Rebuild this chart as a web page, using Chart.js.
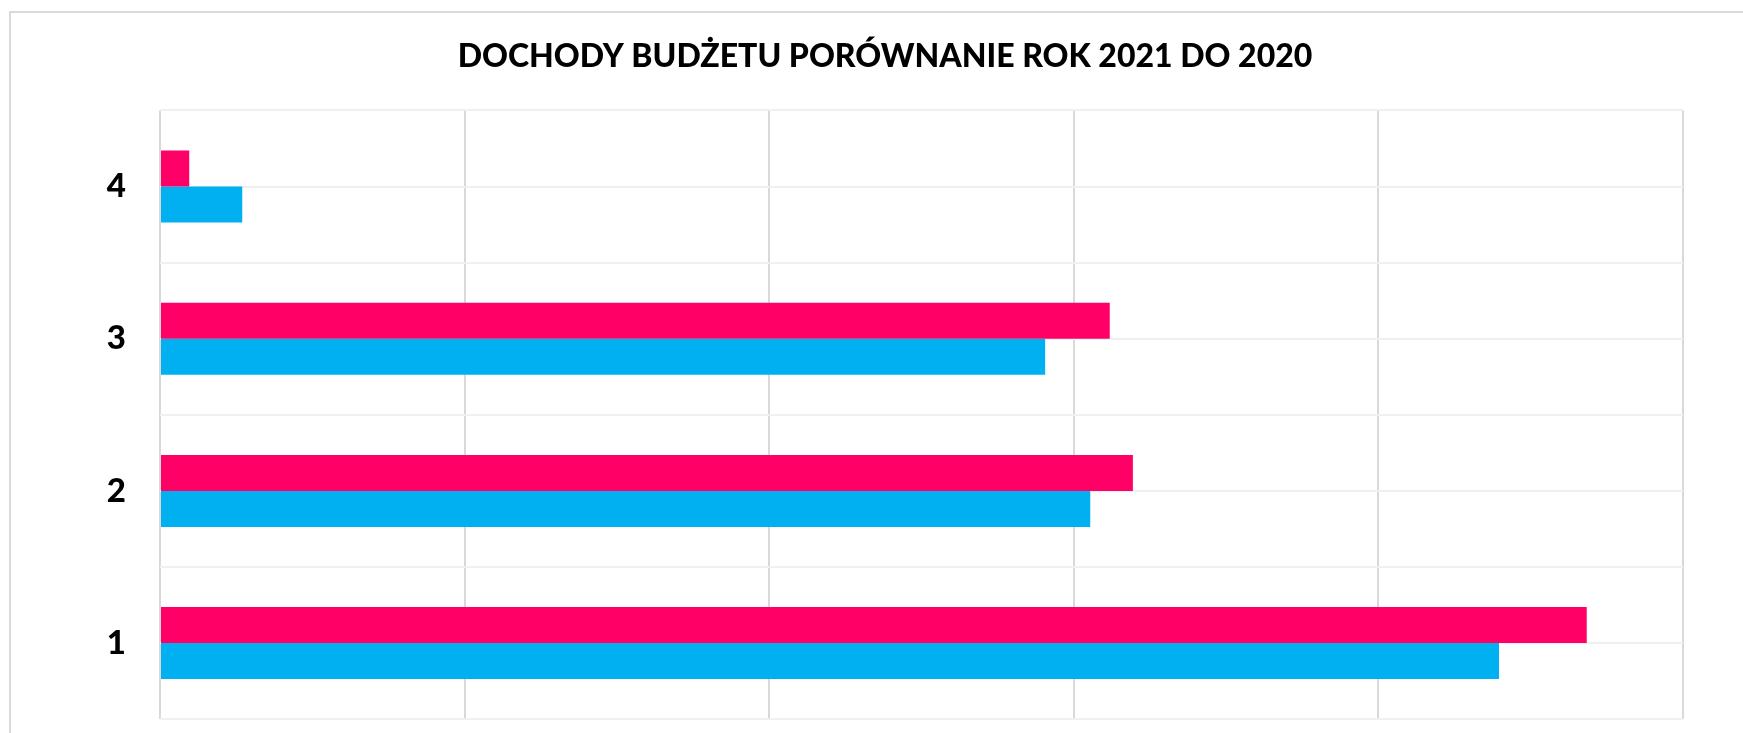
<!DOCTYPE html>
<html>
<head>
<meta charset="utf-8">
<script src="https://cdn.jsdelivr.net/npm/chart.js@4/dist/chart.umd.min.js"></script>
<style>
  html, body { margin: 0; padding: 0; background: #fff; overflow: hidden; }
  #box {
    position: absolute; left: 9px; top: 11px;
    width: 1769px; height: 760px;
    border-left: 2px solid #d9d9d9; border-top: 2px solid #d9d9d9;
  }
</style>
</head>
<body>
<div id="box"><canvas id="budgetChart"></canvas></div>
<script>
// kategorie (od dołu: 1..4)
var categories = ['1', '2', '3', '4'];
// wartości (jednostki umowne, siatka co 50)
var values2021 = [234.2, 159.7, 155.9, 4.8];
var values2020 = [219.8, 152.7, 145.3, 13.5];
var axisMax = 250;
var axisStep = 50;

// linie pośrednie w środku każdej kategorii
var midLines = {
  id: 'midLines',
  beforeDatasetsDraw: function(chart) {
    var ctx = chart.ctx, area = chart.chartArea, y = chart.scales.y;
    ctx.save();
    ctx.strokeStyle = '#f0f0f0';
    ctx.lineWidth = 2;
    categories.forEach(function(c, i) {
      var py = Math.round(y.getPixelForValue(i));
      ctx.beginPath();
      ctx.moveTo(area.left, py);
      ctx.lineTo(area.right, py);
      ctx.stroke();
    });
    ctx.restore();
  }
};

var ctx = document.getElementById('budgetChart').getContext('2d');

var budgetChart = new Chart(ctx, {
  type: 'bar',
  data: {
    labels: categories,
    datasets: [{
      label: '2021',
      data: values2021,
      backgroundColor: '#ff0066',
      categoryPercentage: 0.473,
      barPercentage: 1.0
    }, {
      label: '2020',
      data: values2020,
      backgroundColor: '#00b0f0',
      categoryPercentage: 0.473,
      barPercentage: 1.0
    }]
  },
  options: {
    indexAxis: 'y',
    responsive: true,
    maintainAspectRatio: false,
    animation: false,
    layout: { padding: { left: 76, right: 97, top: 0, bottom: 51 } },
    plugins: {
      legend: { display: false },
      tooltip: { enabled: false },
      title: {
        display: true,
        text: 'DOCHODY BUDŻETU PORÓWNANIE ROK 2021 DO 2020',
        color: '#000',
        font: { family: 'Lato', size: 32, weight: 900 },
        padding: { top: 24, bottom: 35 }
      }
    },
    scales: {
      x: {
        min: 0,
        max: axisMax,
        ticks: { display: false, stepSize: axisStep },
        grid: { color: '#d9d9d9', lineWidth: 2, drawTicks: false },
        border: { display: false }
      },
      y: {
        reverse: true,
        afterFit: function(scale) { scale.width = 73; },
        ticks: {
          color: '#000',
          padding: 34,
          font: { family: 'Lato', size: 33, weight: 900 }
        },
        grid: { color: '#f0f0f0', lineWidth: 2, drawTicks: false },
        border: { display: false }
      }
    }
  },
  plugins: [midLines]
});
</script>
</body>
</html>
